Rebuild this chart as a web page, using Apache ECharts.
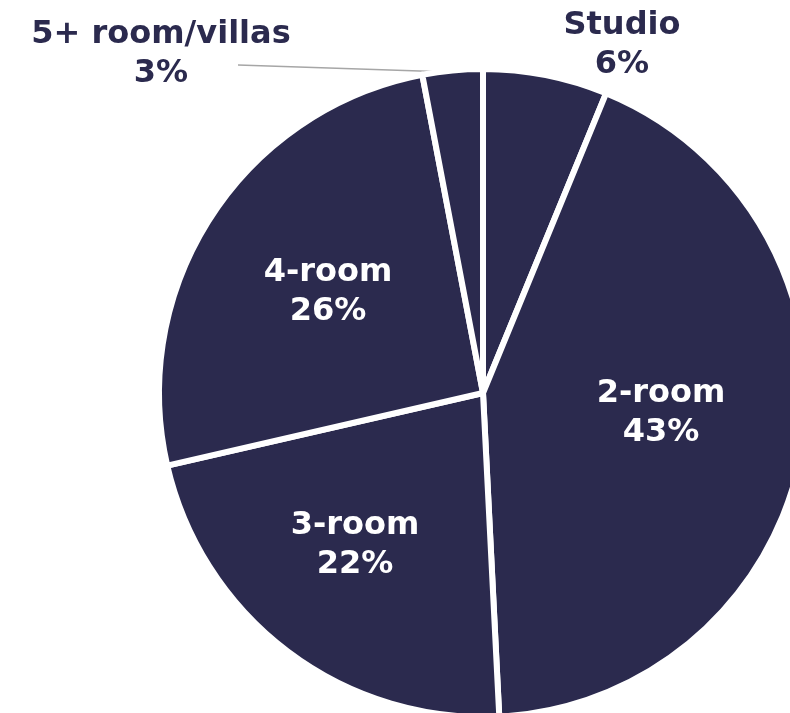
<!DOCTYPE html>
<html><head><meta charset="utf-8">
<script src="https://cdn.jsdelivr.net/npm/echarts@6/dist/echarts.min.js"></script>
<style>html,body{margin:0;padding:0;background:#fff}#c{width:790px;height:713px}</style>
</head><body><div id="c"></div>
<script>
const categories = ['Studio', '2-room', '3-room', '4-room', '5+ room/villas'];
const shares = [6.2, 43.0, 22.2, 25.6, 3.0];
const labelPos = [[622, 45], [661, 413], [355, 545], [328, 292], [161, 54]];
const navy = '#2b2a4e';
const chart = echarts.init(document.getElementById('c'), null, {renderer: 'canvas'});
const total = shares.reduce((a, b) => a + b, 0);
chart.setOption({
  animation: false,
  series: [{
    type: 'pie',
    center: [483, 393],
    radius: [0, 324],
    startAngle: 90,
    clockwise: true,
    itemStyle: {color: navy, borderColor: '#fff', borderWidth: 6},
    label: {
      show: true,
      position: 'inside',
      fontFamily: 'DejaVu Sans',
      fontWeight: 'bold',
      fontSize: 32,
      lineHeight: 39,
      align: 'center',
      formatter: p => p.name + '\n' + Math.round(p.value / total * 100) + '%'
    },
    labelLine: {show: false},
    labelLayout: p => {
      const pos = labelPos[p.dataIndex];
      const r = {x: pos[0], y: pos[1], align: 'center', verticalAlign: 'middle'};
      if (p.dataIndex === 4) r.labelLinePoints = [[238, 65], [450, 72], [450, 72]];
      return r;
    },
    data: categories.map((n, i) => {
      const outside = (i === 0 || i === 4);
      return {
        name: n, value: shares[i],
        label: {color: outside ? navy : '#fff', position: outside ? 'outside' : 'inside'},
        labelLine: {show: i === 4, lineStyle: {color: '#a6a6a6', width: 1.5}}
      };
    })
  }]
});
</script></body></html>
